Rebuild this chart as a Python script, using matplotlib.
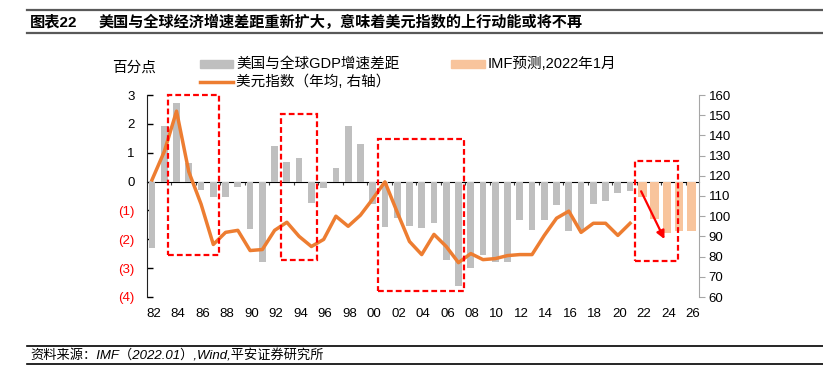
import numpy as np
import matplotlib
matplotlib.use("Agg")
import matplotlib.pyplot as plt
from matplotlib.patches import Rectangle
from matplotlib.lines import Line2D

plt.rcParams['font.family'] = ['Liberation Sans', 'Noto Sans CJK SC']

# data
years_hist = list(range(1982, 2022))
gap_hist = [-2.3, 1.93, 2.71, 0.63, -0.29, -0.54, -0.54, -0.2, -1.65, -2.8,
            1.25, 0.69, 0.83, -0.75, -0.23, 0.48, 1.92, 1.29, -0.78, -1.58,
            -1.27, -1.53, -1.61, -1.44, -2.71, -3.61, -3.0, -2.56, -2.77, -2.8,
            -1.34, -1.67, -1.32, -0.8, -1.7, -1.7, -0.78, -0.66, -0.39, -0.31]
years_imf = [2022, 2023, 2024, 2025, 2026]
gap_imf = [-0.54, -1.3, -1.78, -1.7, -1.7]
dxy = [118, 132, 152, 122, 106, 86, 92, 93, 83, 83.5,
       93, 97, 90, 85, 88.5, 100, 95, 100.5, 108.5, 117,
       102, 87.5, 81, 91, 85, 77, 81.5, 78.5, 79, 80.5,
       81, 81, 90.5, 99, 102.5, 92, 96.5, 96.5, 90.5, 96.5]
label_years = list(range(1982, 2027, 2))
left_ticks = [3, 2, 1, 0, -1, -2, -3, -4]
right_ticks = list(range(60, 161, 10))

# highlight boxes (x0, x1, y0, y1) in years / left-axis units
boxes = [(1983.31, 1987.46, -2.56, 3.0),
         (1992.52, 1995.48, -2.71, 2.33),
         (2000.41, 2007.47, -3.8, 1.48),
         (2021.4, 2024.93, -2.76, 0.71)]

W, H = 823, 375
def fx(px): return px / W
def fy(py): return 1 - py / H

fig = plt.figure(figsize=(W / 100, H / 100), dpi=100)
ax = fig.add_axes([fx(147), fy(297), (699 - 147) / W, (297 - 95) / H])
ax2 = ax.twinx()

ax.bar(years_hist, gap_hist, width=0.55, color='#bfbfbf', zorder=2)
ax.bar(years_imf, gap_imf, width=0.68, color='#f8c49c', zorder=2)
ax.set_xlim(1981.59, 2026.62)
ax.set_ylim(-4, 3)

# zero line with small ticks between categories
zero = ax.secondary_xaxis(4 / 7)
zero.set_xticks(np.arange(1983.55, 2026, 2))
zero.tick_params(axis='x', direction='in', length=2, width=0.8, color='#404040',
                 labelbottom=False, labeltop=False)
zero.spines['bottom'].set_color('#404040')
zero.spines['bottom'].set_linewidth(1.2)

ax.set_xticks([y + 0.12 for y in label_years], labels=[f"{y % 100:02d}" for y in label_years])
ax.tick_params(axis='x', length=0, pad=8, labelsize=9.5)
ax.set_yticks(left_ticks, labels=[str(v) if v >= 0 else f"({-v})" for v in left_ticks])
ax.tick_params(axis='y', direction='in', length=4, width=1, pad=9, labelsize=9.5)
for lbl, v in zip(ax.get_yticklabels(), left_ticks):
    lbl.set_color('red' if v < 0 else 'black')
for s in ['top', 'right', 'bottom']:
    ax.spines[s].set_visible(False)
ax.spines['left'].set_color('#202020')

ax2.plot(years_hist, dxy, color='#ed7d31', lw=2.5, zorder=4)
ax2.set_ylim(60, 160)
ax2.set_yticks(right_ticks)
ax2.tick_params(axis='y', direction='out', length=4, color='#a6a6a6', pad=3, labelsize=9.5)
for s in ['top', 'left', 'bottom']:
    ax2.spines[s].set_visible(False)
ax2.spines['right'].set_color('#a6a6a6')

for x0, x1, y0, y1 in boxes:
    r = Rectangle((x0, y0), x1 - x0, y1 - y0, fill=False, edgecolor='red', lw=1.6,
                  linestyle=(0, (2.6, 1.4)), transform=ax.transData, clip_on=False, zorder=5)
    ax2.add_patch(r)
ax2.annotate('', xy=(2023.9, -2.08), xytext=(2021.8, -0.25), xycoords=ax.transData,
             textcoords=ax.transData,
             arrowprops=dict(arrowstyle='-|>', color='red', lw=1.6, mutation_scale=12))

# legend and axis unit
fig.text(fx(134), fy(68), '百分点', ha='center', va='center', fontsize=10.5)
fig.add_artist(Rectangle((fx(200), fy(68)), fx(33), 8 / H, color='#bfbfbf', transform=fig.transFigure))
fig.text(fx(236), fy(64), '美国与全球GDP增速差距', va='center', fontsize=10.5)
fig.add_artist(Line2D([fx(200), fx(233)], [fy(82), fy(82)], color='#ed7d31', lw=2.5, transform=fig.transFigure))
fig.text(fx(236), fy(82), '美元指数（年均, 右轴）', va='center', fontsize=10.5)
fig.add_artist(Rectangle((fx(451), fy(68)), fx(34), 8 / H, color='#f8c49c', transform=fig.transFigure))
fig.text(fx(488), fy(64), 'IMF预测,2022年1月', va='center', fontsize=10.5)

# title block and source
for py, c, lw in [(10, '#595959', 1.6), (32.5, '#595959', 1.6), (346, 'black', 1.2), (364, 'black', 1.2)]:
    fig.add_artist(Line2D([fx(27), 1], [fy(py), fy(py)], color=c, lw=lw, transform=fig.transFigure))
fig.text(fx(30), fy(22), '图表22', va='center', fontsize=11, fontweight='bold')
fig.text(fx(99), fy(22), '美国与全球经济增速差距重新扩大，意味着美元指数的上行动能或将不再',
         va='center', fontsize=10.9, fontweight='bold')
fig.text(fx(30), fy(356), '资料来源：IMF（2022.01）,Wind,平安证券研究所', va='center',
         fontsize=9.5, style='italic')

fig.savefig('out.png', dpi=100)
